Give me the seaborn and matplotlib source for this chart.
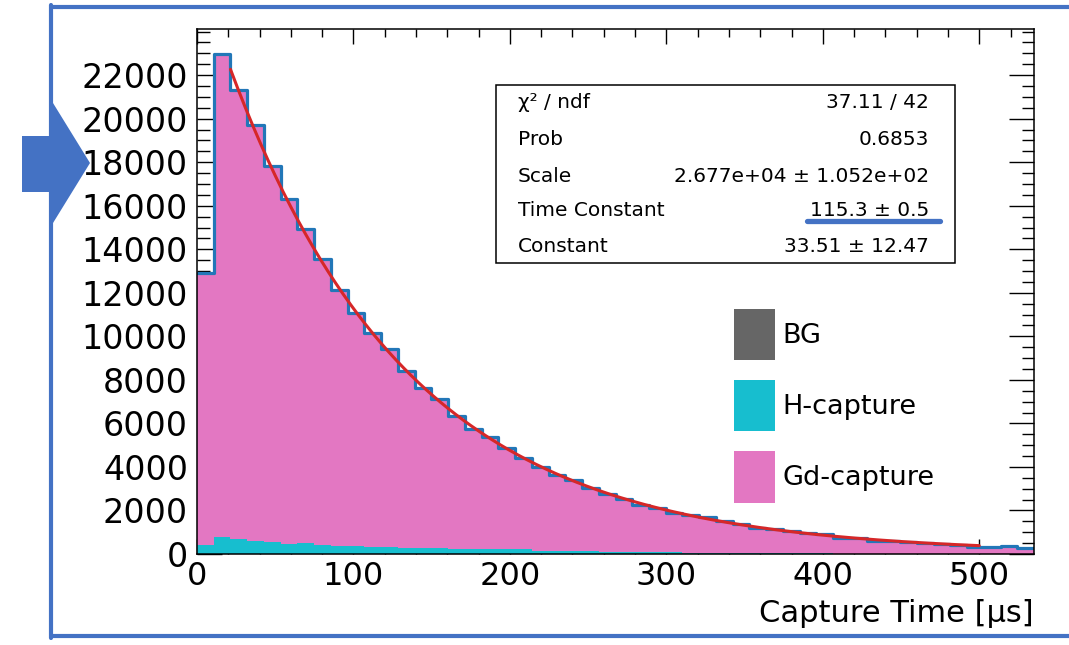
import numpy as np
import pandas as pd
import matplotlib
matplotlib.use('Agg')
import matplotlib.pyplot as plt
import seaborn as sns
from matplotlib.patches import Patch, Rectangle, Polygon
from matplotlib.lines import Line2D
from matplotlib.ticker import MultipleLocator

# 50 bins from 0 to 535 us
bin_edges = np.linspace(0, 535, 51).tolist()

total_counts = [12890, 22970, 21300, 19700, 17820, 16290, 14910, 13560, 12150, 11080,
                10160, 9430, 8400, 7630, 7130, 6330, 5750, 5380, 4870, 4410,
                3980, 3630, 3420, 3030, 2770, 2540, 2270, 2115, 1885, 1780,
                1720, 1500, 1390, 1200, 1150, 1070, 965, 920, 740, 735,
                610, 580, 550, 505, 475, 430, 320, 320, 350, 260]

h_capture = [430, 780, 690, 610, 550, 475, 505, 430, 380, 350,
             320, 305, 290, 280, 260, 250, 240, 230, 220, 210,
             150, 140, 130, 120, 110, 100, 90, 80, 70, 60,
             55, 50, 45, 40, 35, 30, 28, 25, 22, 20,
             18, 16, 14, 12, 10, 9, 8, 7, 6, 5]

bg_counts = [0] * 50

# fit result shown in the stats box
fit_scale = 2.677e4
fit_tau = 115.3
fit_const = 33.51
fit_range = (21.4, 500)

stat_names = ['χ² / ndf', 'Prob', 'Scale', 'Time Constant', 'Constant']
stat_values = ['37.11 / 42', '0.6853', '2.677e+04 ± 1.052e+02', '115.3 ± 0.5', '33.51 ± 12.47']

labels = ['BG', 'H-capture', 'Gd-capture']
colors = {'BG': '#666666', 'H-capture': '#17becf', 'Gd-capture': '#e377c2'}

W, H = 1069, 645


def fx(px):
    return px / W


def fy(py):
    return 1 - py / H


edges = np.array(bin_edges)
centers = 0.5 * (edges[:-1] + edges[1:])
total = np.array(total_counts, dtype=float)
hcap = np.array(h_capture, dtype=float)
gd = total - hcap

df = pd.concat([
    pd.DataFrame({'t': centers, 'count': bg_counts, 'comp': 'BG'}),
    pd.DataFrame({'t': centers, 'count': hcap, 'comp': 'H-capture'}),
    pd.DataFrame({'t': centers, 'count': gd, 'comp': 'Gd-capture'}),
], ignore_index=True)

sns.set_style('ticks')
plt.rcParams['font.family'] = ['DejaVu Sans']
plt.rcParams['text.color'] = 'black'

fig = plt.figure(figsize=(W / 100, H / 100), dpi=100)
ax = fig.add_axes([fx(197), fy(554), fx(1034) - fx(197), fy(29) - fy(554)])

sns.histplot(data=df, x='t', weights='count', hue='comp',
             hue_order=['Gd-capture', 'H-capture', 'BG'], palette=colors,
             bins=bin_edges, multiple='stack', element='step', fill=True,
             alpha=1, linewidth=0, legend=False, ax=ax)

sns.histplot(x=centers, weights=total, bins=bin_edges, element='step', fill=False,
             color='#2277b8', linewidth=2.3, ax=ax)

t_fit = np.linspace(fit_range[0], fit_range[1], 400)
y_fit = fit_scale * np.exp(-t_fit / fit_tau) + fit_const
sns.lineplot(x=t_fit, y=y_fit, color='#d62728', linewidth=2.2, ax=ax)

ax.set_xlim(0, 535)
ax.set_ylim(0, 24120)
ax.set_ylabel('')
ax.xaxis.set_major_locator(MultipleLocator(100))
ax.xaxis.set_minor_locator(MultipleLocator(20))
ax.set_yticks(np.arange(0, 22001, 2000))
ax.yaxis.set_minor_locator(MultipleLocator(500))
ax.tick_params(axis='both', which='both', direction='in', top=True, right=True,
               width=1, color='black', labelcolor='black')
ax.tick_params(axis='x', which='major', length=11, pad=5, labelsize=23)
ax.tick_params(axis='x', which='minor', length=5.5)
ax.tick_params(axis='y', which='major', length=18, pad=6.5, labelsize=24)
ax.tick_params(axis='y', which='minor', length=9)
for s in ax.spines.values():
    s.set_visible(True)
    s.set_linewidth(1.1)
    s.set_color('black')

ax.set_xlabel('Capture Time [μs]', fontsize=22, ha='right', va='top', color='black')
ax.xaxis.set_label_coords(1.0, -(599 - 554) / 525)

# stats box
fig.patches.append(Rectangle((fx(496), fy(263)), fx(955) - fx(496), fy(85) - fy(263),
                             transform=fig.transFigure, fill=True, facecolor='white',
                             edgecolor='black', linewidth=1.1, zorder=5))
row_y = [102, 140, 176, 211, 247]
for name, val, yy in zip(stat_names, stat_values, row_y):
    fig.text(fx(518), fy(yy), name, fontsize=14.5, ha='left', va='center', zorder=6)
    fig.text(fx(929), fy(yy), val, fontsize=14.5, ha='right', va='center', zorder=6)
fig.lines.append(Line2D([fx(807), fx(940)], [fy(221), fy(221)], transform=fig.transFigure,
                        color='#4472c4', linewidth=3.8, zorder=7))

# legend
handles = [Patch(facecolor=colors[l], edgecolor='none') for l in labels]
fig.legend(handles, labels, loc='upper left', bbox_to_anchor=(fx(734), fy(309)),
           bbox_transform=fig.transFigure, frameon=False, fontsize=19.5,
           handlelength=1.52, handleheight=2.53, labelspacing=0.74, handletextpad=0.26,
           borderpad=0, borderaxespad=0)

# slide frame and arrow
frame_c = '#4472c4'
fig.lines.append(Line2D([fx(51), fx(1069)], [fy(6.5), fy(6.5)], transform=fig.transFigure,
                        color=frame_c, linewidth=3, zorder=10))
fig.lines.append(Line2D([fx(51), fx(51)], [fy(5), fy(638)], transform=fig.transFigure,
                        color=frame_c, linewidth=3, zorder=10))
fig.lines.append(Line2D([fx(51), fx(1069)], [fy(636), fy(636)], transform=fig.transFigure,
                        color=frame_c, linewidth=3, zorder=10))
arrow_px = [(22, 136), (53, 136), (53, 103), (90, 163), (53, 223), (53, 192), (22, 192)]
fig.patches.append(Polygon([(fx(a), fy(b)) for a, b in arrow_px], closed=True,
                           transform=fig.transFigure, facecolor=frame_c,
                           edgecolor='none', zorder=10))

fig.savefig('out.png', dpi=100)
